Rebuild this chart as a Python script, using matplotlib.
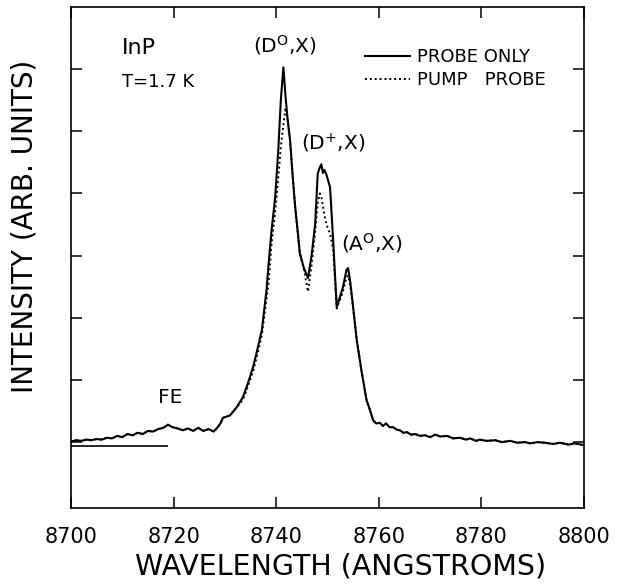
import numpy as np
import matplotlib
matplotlib.use('Agg')
import matplotlib.pyplot as plt

# wavelength grid (angstroms)
wavelength = [
    8700.0, 8701.0, 8702.0, 8703.0, 8704.0, 8705.0, 8706.0, 8707.0, 8708.0, 8709.0,
    8710.0, 8711.0, 8712.0, 8713.0, 8714.0, 8715.0, 8716.0, 8717.0, 8718.0, 8718.9,
    8719.8, 8720.8, 8721.8, 8722.8, 8723.8, 8724.8, 8725.8, 8726.8, 8727.8, 8728.5,
    8729.2, 8729.6, 8731.0, 8732.2, 8733.5, 8734.5, 8735.5, 8736.3, 8737.2, 8738.1,
    8738.5, 8739.1, 8739.8, 8740.4, 8740.9, 8741.4, 8741.8, 8742.2, 8742.7, 8743.2,
    8743.7, 8744.2, 8744.6, 8745.4, 8746.2, 8746.9, 8747.6, 8748.1, 8748.5, 8748.8,
    8749.1, 8749.4, 8749.8, 8750.5, 8751.1, 8751.8, 8752.4, 8753.0, 8753.7, 8754.0,
    8754.4, 8755.0, 8755.7, 8756.7, 8757.6, 8758.3, 8758.9, 8759.5, 8760.2, 8760.8,
    8761.4, 8762.1, 8762.8, 8763.5, 8764.1, 8764.8, 8765.5, 8766.3, 8767.1, 8768.0,
    8769.0, 8770.0, 8771.0, 8772.0, 8773.3, 8774.5, 8775.8, 8777.0, 8777.8, 8779.0,
    8779.7, 8781.0, 8782.7, 8784.0, 8785.6, 8787.0, 8788.5, 8789.5, 8791.0, 8792.4,
    8794.0, 8795.3, 8797.0, 8798.2, 8800.0,
]

probe_only = [
    0.01, 0.03, 0.02, 0.04, 0.03, 0.05, 0.04, 0.07, 0.06, 0.10,
    0.08, 0.13, 0.11, 0.15, 0.13, 0.18, 0.17, 0.21, 0.23, 0.28,
    0.24, 0.22, 0.19, 0.22, 0.18, 0.23, 0.18, 0.21, 0.17, 0.23,
    0.31, 0.39, 0.43, 0.55, 0.72, 0.95, 1.21, 1.48, 1.80, 2.44,
    2.85, 3.41, 3.94, 4.69, 5.50, 6.03, 5.58, 5.21, 4.86, 4.29,
    3.78, 3.38, 3.04, 2.80, 2.64, 3.00, 3.52, 4.32, 4.42, 4.47,
    4.33, 4.38, 4.30, 4.10, 3.25, 2.17, 2.33, 2.49, 2.77, 2.80,
    2.60, 2.17, 1.64, 1.11, 0.68, 0.51, 0.35, 0.30, 0.31, 0.26,
    0.30, 0.24, 0.24, 0.20, 0.19, 0.15, 0.16, 0.12, 0.13, 0.10,
    0.11, 0.08, 0.12, 0.09, 0.10, 0.06, 0.07, 0.04, 0.06, 0.02,
    0.04, 0.02, 0.03, 0.00, 0.02, -0.01, 0.00, -0.02, 0.00, -0.01,
    -0.03, -0.01, -0.04, -0.02, -0.05,
]

pump_probe = [
    0.01, 0.03, 0.02, 0.04, 0.03, 0.05, 0.04, 0.07, 0.06, 0.10,
    0.08, 0.13, 0.11, 0.15, 0.13, 0.18, 0.17, 0.21, 0.23, 0.28,
    0.24, 0.22, 0.19, 0.22, 0.18, 0.23, 0.18, 0.21, 0.17, 0.23,
    0.31, 0.39, 0.43, 0.55, 0.68, 0.90, 1.14, 1.40, 1.72, 2.30,
    2.55, 3.20, 3.70, 4.25, 4.75, 5.10, 5.38, 5.20, 4.86, 4.30,
    3.78, 3.38, 3.04, 2.78, 2.42, 2.85, 3.40, 3.85, 4.00, 3.95,
    3.80, 3.65, 3.50, 3.35, 3.10, 2.15, 2.28, 2.42, 2.65, 2.68,
    2.55, 2.15, 1.64, 1.11, 0.68, 0.51, 0.35, 0.30, 0.31, 0.26,
    0.30, 0.24, 0.24, 0.20, 0.19, 0.15, 0.16, 0.12, 0.13, 0.10,
    0.11, 0.08, 0.12, 0.09, 0.10, 0.06, 0.07, 0.04, 0.06, 0.02,
    0.04, 0.02, 0.03, 0.00, 0.02, -0.01, 0.00, -0.02, 0.00, -0.01,
    -0.03, -0.01, -0.04, -0.02, -0.05,
]

# short reference (zero) line at the left
ref_start, ref_end, ref_level = 8700, 8719, -0.06

peak_labels = [r'(D$^{\mathrm{O}}$,X)', r'(D$^{+}$,X)', r'(A$^{\mathrm{O}}$,X)', 'FE']
peak_label_x = [8741.7, 8751.1, 8758.7, 8719.3]
peak_label_y = [6.38, 4.81, 3.20, 0.71]

x_ticks = [8700, 8720, 8740, 8760, 8780, 8800]
y_ticks = [0, 1, 2, 3, 4, 5, 6]

fig = plt.figure(figsize=(6.19, 5.84), dpi=100)
ax = fig.add_axes([71 / 619, 1 - 508 / 584, 513 / 619, 501 / 584])

ax.plot(wavelength, probe_only, color='black', linewidth=1.5, label='PROBE ONLY')
ax.plot(wavelength, pump_probe, color='black', linewidth=1.4, linestyle=(0, (1, 1.5)),
        label='PUMP   PROBE')
ax.hlines(ref_level, ref_start, ref_end, color='black', linewidth=1.2)

ax.set_xlim(8700, 8800)
ax.set_ylim(-1.06, 7.0)
ax.set_xticks(x_ticks)
ax.set_yticks(y_ticks)
ax.set_yticklabels([])
ax.tick_params(direction='in', length=8, width=1.1, top=True, right=True,
               labelsize=15, pad=14)
for sp in ax.spines.values():
    sp.set_linewidth(1.2)

ax.set_xlabel('WAVELENGTH (ANGSTROMS)', fontsize=20.5)
ax.xaxis.set_label_coords(0.525, -0.088)
ax.set_ylabel('INTENSITY (ARB. UNITS)', fontsize=20)
ax.yaxis.set_label_coords(-0.064, 0.563)

for txt, x, y in zip(peak_labels, peak_label_x, peak_label_y):
    ax.text(x, y, txt, fontsize=14.5, ha='center', va='center')

ax.text(8710, 6.34, 'InP', fontsize=16, ha='left', va='center')
ax.text(8710, 5.80, 'T=1.7 K', fontsize=13, ha='left', va='center')

ax.legend(loc='upper left', bbox_to_anchor=(0.573, 0.918), frameon=False,
          fontsize=13, handlelength=2.5, handletextpad=0.4, borderpad=0,
          borderaxespad=0, labelspacing=0.3)

fig.savefig('out.png', dpi=100)
